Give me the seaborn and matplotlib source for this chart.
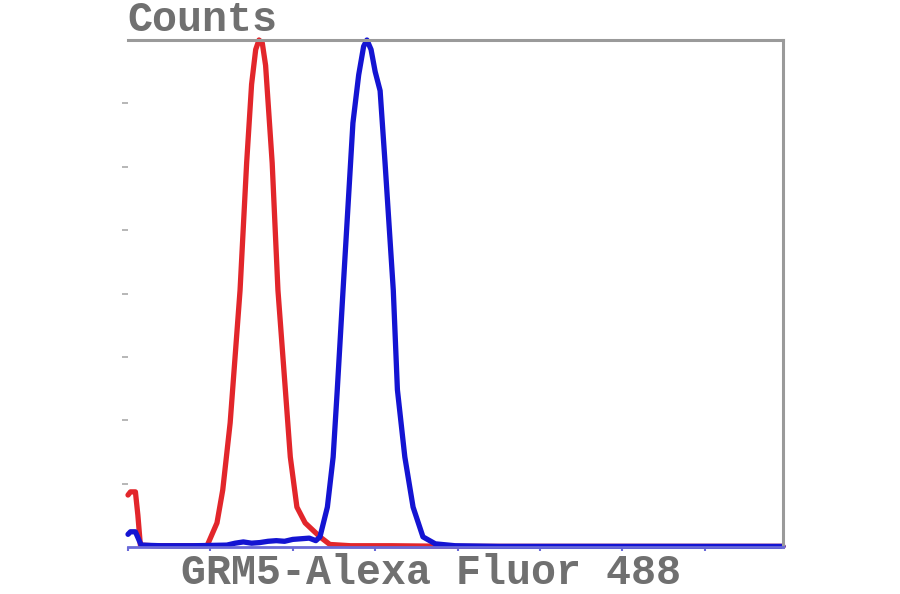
import matplotlib
matplotlib.use("Agg")
import matplotlib.pyplot as plt
import seaborn as sns
import pandas as pd

# Data (x in axis tick units, y in count units, peak = 8)
red_x = [0.0, 0.03, 0.09, 0.12, 0.15, 0.30, 0.60, 0.96, 1.08, 1.15, 1.24, 1.36, 1.44, 1.50, 1.55, 1.59, 1.63, 1.67, 1.75,
         1.82, 1.91, 1.97, 2.05, 2.15, 2.33, 2.45, 2.70, 3.20, 4.00, 5.00, 6.00, 7.00, 7.95]
red_y = [0.82, 0.87, 0.87, 0.50, 0.03, 0.02, 0.02, 0.02, 0.38, 0.90, 1.96, 4.05, 6.06, 7.30, 7.85, 8.00, 7.95, 7.60, 6.06,
         4.05, 2.48, 1.42, 0.63, 0.38, 0.16, 0.04, 0.02, 0.02, 0.01, 0.01, 0.01, 0.01, 0.01]

blue_x = [0.0, 0.03, 0.09, 0.12, 0.16, 0.40, 0.80, 1.20, 1.30, 1.40, 1.50, 1.60, 1.70, 1.80, 1.90, 2.00, 2.10, 2.20,
          2.28, 2.33, 2.42, 2.49, 2.54, 2.61, 2.73, 2.80, 2.86, 2.90, 2.95, 3.00, 3.06, 3.12, 3.22, 3.27, 3.36, 3.46,
          3.58, 3.73, 3.97, 4.50, 5.50, 6.50, 7.95]
blue_y = [0.20, 0.24, 0.24, 0.15, 0.03, 0.02, 0.02, 0.03, 0.06, 0.08, 0.06, 0.07, 0.09, 0.10, 0.09, 0.12, 0.13, 0.14,
          0.10, 0.16, 0.63, 1.42, 2.48, 4.05, 6.69, 7.45, 7.90, 8.00, 7.85, 7.50, 7.20, 6.06, 4.05, 2.48, 1.42, 0.63,
          0.16, 0.05, 0.02, 0.01, 0.01, 0.01, 0.01]

series_names = ["Isotype control", "GRM5"]
series_colors = ["#e2262b", "#1414d2"]
x_ticks = [0, 1, 2, 3, 4, 5, 6, 7]
y_ticks = [1, 2, 3, 4, 5, 6, 7]
y_label = "Counts"
x_label = "GRM5-Alexa Fluor 488"

df = pd.concat([
    pd.DataFrame({"x": red_x, "y": red_y, "series": series_names[0]}),
    pd.DataFrame({"x": blue_x, "y": blue_y, "series": series_names[1]}),
], ignore_index=True)

sns.set_style("white")
fig = plt.figure(figsize=(9, 5.94), dpi=100)
ax = fig.add_axes([128 / 900, 1 - 547 / 594, (783 - 128) / 900, (547 - 40) / 594])

sns.lineplot(data=df, x="x", y="y", hue="series", palette=series_colors, hue_order=series_names,
             linewidth=3.8, sort=False, estimator=None, legend=False, ax=ax)
for line in ax.get_lines():
    line.set_solid_joinstyle("round")
    line.set_solid_capstyle("round")
    line.set_clip_on(False)

ax.set_xlim(0, 7.95)
ax.set_ylim(0, 8)
ax.set_xticks(x_ticks)
ax.set_yticks(y_ticks)
ax.set_xticklabels([])
ax.set_yticklabels([])
ax.set_xlabel("")
ax.set_ylabel("")
ax.tick_params(axis="x", direction="out", length=3, width=1.5, colors="#6a6ad8", bottom=True)
ax.tick_params(axis="y", direction="out", length=4, width=1.2, colors="#aaaaaa", left=True, pad=2)

ax.spines["left"].set_visible(False)
for s in ["top", "right"]:
    ax.spines[s].set_color("#9a9a9a")
    ax.spines[s].set_linewidth(2.2)
ax.spines["bottom"].set_color("#6a6ad8")
ax.spines["bottom"].set_linewidth(2.0)

fig.text(127 / 900, 1 - 31 / 594, y_label, family="Liberation Mono", fontweight="bold",
         fontsize=30, color="#707070", ha="left", va="baseline")
fig.text(181 / 900, 1 - 584 / 594, x_label, family="Liberation Mono", fontweight="bold",
         fontsize=30, color="#707070", ha="left", va="baseline")

fig.savefig("out.png", dpi=100)
